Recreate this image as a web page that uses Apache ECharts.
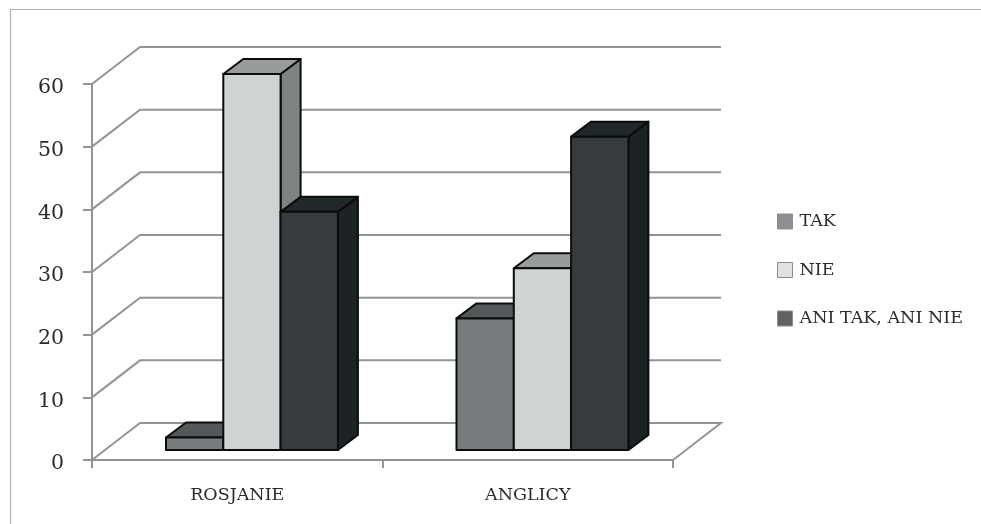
<!DOCTYPE html>
<html>
<head>
<meta charset="utf-8">
<title>TAK / NIE</title>
<script src="https://cdn.jsdelivr.net/npm/echarts@6/dist/echarts.min.js"></script>
<style>
html,body{margin:0;padding:0;background:#fff}
#chart{width:981px;height:524px}
</style>
</head>
<body>
<div id="chart"></div>
<script>
const categories = ['ROSJANIE', 'ANGLICY'];
const seriesNames = ['TAK', 'NIE', 'ANI TAK, ANI NIE'];
const takValues = [2, 21];
const nieValues = [60, 29];
const aniValues = [38, 50];
const wallTicks = [0, 10, 20, 30, 40, 50, 60];

// Shades of the three visible faces of each bar, and the legend swatches
const facesTak = { front: '#797c7d', top: '#555858', side: '#555858' };
const facesNie = { front: '#d1d3d2', top: '#9a9c9b', side: '#808383' };
const facesAni = { front: '#383b3e', top: '#22282a', side: '#1d2224' };
const swatches = ['#8e8f92', '#e1e2e2', '#616264'];

// Oblique projection: the back wall and the bar row sit behind the front plane
const WALL_DX = 48, WALL_DY = -37;   // front plane to back wall
const ROW_DX = 14.7, ROW_DY = -10;   // front plane to bars' front faces
const BAR_DX = 20, BAR_DY = -15;     // depth of each bar
const BAR_WIDTH = 57.3;

const FONT = '"DejaVu Serif", serif';
const INK = '#2b2b2b';
const AXIS_GREY = '#939595';

function wallItem(params, api) {
  const v = api.value(0);
  const p0 = api.coord([0, v]);
  const size = api.size([1, 0]);
  const left = p0[0] - size[0] / 2;
  const right = left + size[0] * categories.length;
  const y = p0[1];
  const pts = [[left, y], [left + WALL_DX, y + WALL_DY], [right + WALL_DX, y + WALL_DY]];
  if (v === 0) pts.push([right, y]);
  return {
    type: 'polyline',
    shape: { points: pts },
    style: { stroke: AXIS_GREY, lineWidth: 2, fill: null }
  };
}

function barRenderer(seriesIndex, faces) {
  return function (params, api) {
    const cat = api.value(0);
    const val = api.value(1);
    const top = api.coord([cat, val]);
    const base = api.coord([cat, 0]);
    const x0 = top[0] + ROW_DX + (seriesIndex - 1.5) * BAR_WIDTH;
    const x1 = x0 + BAR_WIDTH;
    const yT = top[1] + ROW_DY;
    const yB = base[1] + ROW_DY;
    const edge = { stroke: '#0a0c0d', lineWidth: 2, lineJoin: 'round' };
    const poly = (points, fill) => ({
      type: 'polygon',
      shape: { points },
      style: Object.assign({ fill }, edge)
    });
    return {
      type: 'group',
      children: [
        poly([[x1, yT], [x1 + BAR_DX, yT + BAR_DY], [x1 + BAR_DX, yB + BAR_DY], [x1, yB]], faces.side),
        poly([[x0, yT], [x0 + BAR_DX, yT + BAR_DY], [x1 + BAR_DX, yT + BAR_DY], [x1, yT]], faces.top),
        poly([[x0, yT], [x1, yT], [x1, yB], [x0, yB]], faces.front)
      ]
    };
  };
}

function barSeries(i, values, faces) {
  return {
    name: seriesNames[i],
    type: 'custom',
    coordinateSystem: 'cartesian2d',
    renderItem: barRenderer(i, faces),
    itemStyle: { color: swatches[i] },
    encode: { x: 0, y: 1 },
    z: 3 + i,
    data: categories.map((c, k) => [k, values[k]])
  };
}

const chart = echarts.init(document.getElementById('chart'), null, { renderer: 'canvas' });
chart.setOption({
  animation: false,
  backgroundColor: '#ffffff',
  grid: { left: 92, right: 308, top: 84, bottom: 64 },
  xAxis: {
    type: 'category',
    data: categories,
    boundaryGap: true,
    axisLine: { show: true, lineStyle: { color: AXIS_GREY, width: 2 } },
    axisTick: { show: true, length: 8, alignWithLabel: false, lineStyle: { color: AXIS_GREY, width: 2 } },
    axisLabel: { color: INK, fontFamily: FONT, fontSize: 17.5, margin: 26 },
    splitLine: { show: false }
  },
  yAxis: {
    type: 'value',
    min: 0,
    max: 60,
    interval: 10,
    axisLine: { show: true, lineStyle: { color: AXIS_GREY, width: 2 } },
    axisTick: { show: true, length: 9, lineStyle: { color: AXIS_GREY, width: 2 } },
    axisLabel: { color: INK, fontFamily: FONT, fontSize: 20.5, margin: 28, verticalAlign: 'top', lineHeight: 8 },
    splitLine: { show: false }
  },
  legend: {
    orient: 'vertical',
    left: 777,
    top: 208.5,
    padding: 0,
    itemWidth: 15,
    itemHeight: 15,
    itemGap: 22.5,
    icon: 'rect',
    selectedMode: false,
    textStyle: { color: INK, fontFamily: FONT, fontSize: 17.5, lineHeight: 15, padding: [0, 0, 11, 2] },
    data: seriesNames.map((n, i) => ({
      name: n,
      itemStyle: { color: swatches[i], borderColor: '#8b8d8d', borderWidth: 1 }
    }))
  },
  graphic: [
    // Chart frame: its top and left edges stay inside the page
    {
      type: 'polyline',
      silent: true,
      z: 0,
      shape: { points: [[981, 9.5], [10.5, 9.5], [10.5, 524]] },
      style: { stroke: '#b2b2b2', lineWidth: 1.2, fill: null }
    }
  ],
  series: [
    {
      name: 'wall',
      type: 'custom',
      coordinateSystem: 'cartesian2d',
      renderItem: wallItem,
      silent: true,
      encode: { y: 0 },
      z: 1,
      data: wallTicks.map(v => [v])
    },
    barSeries(0, takValues, facesTak),
    barSeries(1, nieValues, facesNie),
    barSeries(2, aniValues, facesAni)
  ]
});
</script>
</body>
</html>
